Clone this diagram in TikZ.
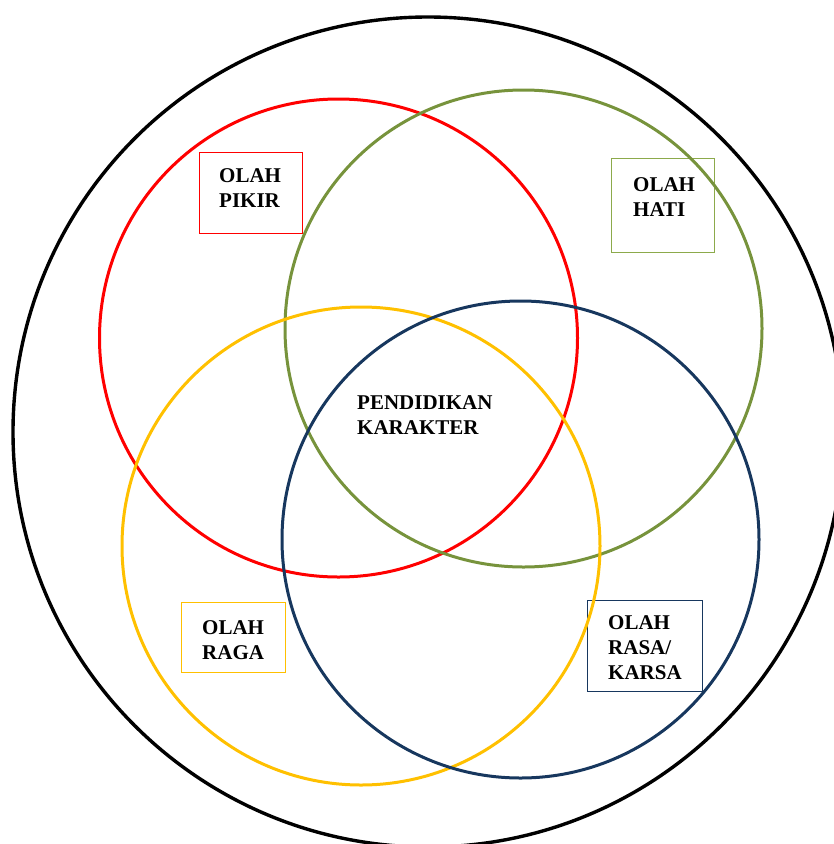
\documentclass[tikz,border=0pt]{standalone}
\usepackage{fontspec}
\setmainfont{Liberation Serif}
\definecolor{cred}{RGB}{255,0,0}
\definecolor{cgreen}{RGB}{119,147,60}
\definecolor{cgreenbox}{RGB}{140,170,75}
\definecolor{cyellow}{RGB}{255,192,0}
\definecolor{cnavy}{RGB}{23,55,94}
\begin{document}
\begin{tikzpicture}[x=1pt,y=-1pt,
  ring/.style={line width=3pt},
  labelbox/.style={line width=0.9pt},
  lbl/.style={anchor=north west,inner sep=0pt,align=left,
    font=\fontsize{21}{25}\selectfont\bfseries}]
\useasboundingbox (0,0) rectangle (834,844);
\clip (0,0) rectangle (834,844);
% boxes
\draw[labelbox,cred] (199,152) rectangle (302,233);
\draw[labelbox,cgreenbox] (611,158) rectangle (714,252);
\draw[labelbox,cyellow] (181,602) rectangle (285,672);
\draw[labelbox,cnavy] (587,600) rectangle (702,691);
% circles
\draw[ring,black,line width=3.4pt] (428,432) circle (415);
\draw[ring,cred] (338.5,338) circle (239);
\draw[ring,cgreen] (523.5,328.5) circle (238.5);
\draw[ring,cyellow] (361,546) circle (239);
\draw[ring,cnavy] (520.5,539.5) circle (238.5);
% labels
\node[lbl] (pikir) at (219,168) {OLAH\\PIKIR};
\node[lbl] (hati) at (633,177) {OLAH\\HATI};
\node[lbl] (raga) at (202,620) {OLAH\\RAGA};
\node[lbl] (rasa) at (608,615) {OLAH\\RASA/\\KARSA};
\node[lbl] (center) at (357,395) {PENDIDIKAN\\KARAKTER};
\end{tikzpicture}
\end{document}
